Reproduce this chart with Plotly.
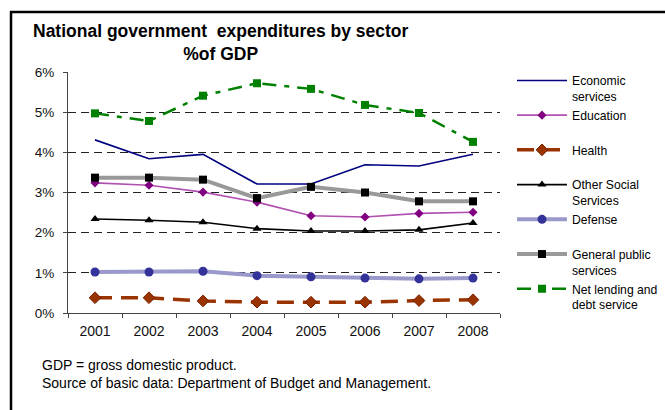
import plotly.graph_objects as go

# National government expenditures by sector, % of GDP
years = ["2001", "2002", "2003", "2004", "2005", "2006", "2007", "2008"]

economic_services = [4.31, 3.84, 3.95, 3.21, 3.21, 3.69, 3.66, 3.95]
education = [3.24, 3.18, 3.01, 2.76, 2.42, 2.39, 2.48, 2.51]
health = [0.38, 0.38, 0.30, 0.27, 0.27, 0.27, 0.31, 0.33]
other_social = [2.34, 2.31, 2.26, 2.10, 2.04, 2.04, 2.07, 2.24]
defense = [1.02, 1.02, 1.04, 0.93, 0.90, 0.87, 0.85, 0.87]
general_public = [3.37, 3.37, 3.32, 2.86, 3.14, 3.00, 2.78, 2.78]
net_lending = [4.97, 4.78, 5.41, 5.72, 5.58, 5.18, 4.98, 4.26]

y_ticks = [0, 1, 2, 3, 4, 5, 6]
y_tick_labels = ["0%", "1%", "2%", "3%", "4%", "5%", "6%"]

FONT = "Liberation Sans, Arial, sans-serif"

fig = go.Figure()

fig.add_trace(go.Scatter(
    x=years, y=economic_services, name="Economic<br>services", mode="lines",
    line=dict(color="#000080", width=1.6),
))
fig.add_trace(go.Scatter(
    x=years, y=education, name="Education<br> ", mode="lines+markers",
    line=dict(color="#b050b0", width=1.6),
    marker=dict(symbol="diamond", size=7, color="#800080"),
))
fig.add_trace(go.Scatter(
    x=years, y=health, name="Health<br> ", mode="lines+markers",
    line=dict(color="#993300", width=3.5, dash="17px,9px"),
    marker=dict(symbol="diamond", size=9, color="#993300",
                line=dict(color="#7a1f00", width=1)),
))
fig.add_trace(go.Scatter(
    x=years, y=other_social, name="Other Social<br>Services", mode="lines+markers",
    line=dict(color="#000000", width=1.6),
    marker=dict(symbol="triangle-up", size=8, color="#000000"),
))
fig.add_trace(go.Scatter(
    x=years, y=defense, name="Defense<br> ", mode="lines+markers",
    line=dict(color="#9999cc", width=4),
    marker=dict(symbol="circle", size=9, color="#333399"),
))
fig.add_trace(go.Scatter(
    x=years, y=general_public, name="General public<br>services", mode="lines+markers",
    line=dict(color="#999999", width=4),
    marker=dict(symbol="square", size=8, color="#000000"),
))
fig.add_trace(go.Scatter(
    x=years, y=net_lending, name="Net lending and<br>debt service", mode="lines+markers",
    line=dict(color="#008000", width=2.5, dash="14px,8px,5px,8px"),
    marker=dict(symbol="square", size=8, color="#008000"),
))

# pixel -> paper helpers for the 432x241 plot area at (68, 72)
def px(x):
    return (x - 68) / 432.0

def py(y):
    return (313 - y) / 241.0

fig.update_layout(
    width=665, height=410,
    margin=dict(l=68, r=165, t=72, b=97),
    paper_bgcolor="white", plot_bgcolor="white",
    font=dict(family=FONT, color="#000000"),
    showlegend=True,
    legend=dict(
        xref="container", yref="container",
        x=512 / 665, y=1 - 66 / 410, xanchor="left", yanchor="top",
        font=dict(family=FONT, size=12.2, color="#000000"),
        itemwidth=50, valign="top", tracegroupgap=0,
        bgcolor="rgba(0,0,0,0)", borderwidth=0,
        maxheight=1,
    ),
    xaxis=dict(
        type="category", range=[-0.5, 7.5],
        showgrid=False, zeroline=False,
        showline=True, linecolor="#444444", linewidth=1,
        ticks="outside", tickson="boundaries", ticklen=4, tickcolor="#444444",
        tickfont=dict(family=FONT, size=14, color="#111111"),
        ticklabelstandoff=5,
    ),
    yaxis=dict(
        range=[0, 6], tickmode="array", tickvals=y_ticks, ticktext=y_tick_labels,
        showgrid=True, gridcolor="#222222", gridwidth=1, griddash="8px,5px",
        zeroline=False,
        showline=True, linecolor="#444444", linewidth=1,
        ticks="outside", ticklen=4, tickcolor="#444444",
        tickfont=dict(family=FONT, size=13.5, color="#111111"),
        ticklabelstandoff=6,
    ),
    annotations=[
        dict(
            xref="paper", yref="paper", x=px(221), y=py(42),
            xanchor="center", yanchor="middle", showarrow=False,
            text="<b>National government&nbsp; expenditures by sector<br>%of GDP</b>",
            font=dict(family=FONT, size=17.5, color="#000000"), align="center",
        ),
        dict(
            xref="paper", yref="paper", x=px(40), y=py(365),
            xanchor="left", yanchor="middle", showarrow=False,
            text="GDP = gross domestic product.",
            font=dict(family=FONT, size=14, color="#000000"), align="left",
        ),
        dict(
            xref="paper", yref="paper", x=px(40), y=py(383),
            xanchor="left", yanchor="middle", showarrow=False,
            text="Source of basic data: Department of Budget and Management.",
            font=dict(family=FONT, size=14, color="#000000"), align="left",
        ),
    ],
    shapes=[
        dict(type="line", xref="paper", yref="paper",
             x0=px(10), x1=px(666), y0=py(12), y1=py(12),
             line=dict(color="#000000", width=2.5)),
        dict(type="line", xref="paper", yref="paper",
             x0=px(11), x1=px(11), y0=py(11), y1=py(412),
             line=dict(color="#000000", width=2.5)),
    ],
)

fig.write_html("out.html")
